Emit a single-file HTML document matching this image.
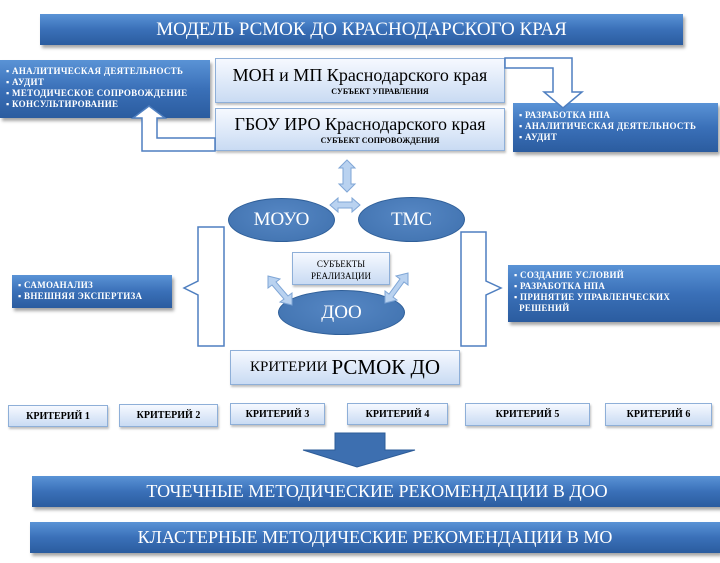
<!DOCTYPE html>
<html><head><meta charset="utf-8"><style>
body{margin:0;width:720px;height:563px;background:#fff;position:relative;overflow:hidden;font-family:"Liberation Serif",serif;}
.a{position:absolute;box-sizing:border-box;}
.db{background:linear-gradient(#5a93d6,#3a70b8 50%,#2b5c9f);color:#fff;box-shadow:2px 3px 3px rgba(0,0,0,.35);}
.lb{background:linear-gradient(#f6f9ff,#c9dbf3);border:1px solid #8eafd8;box-shadow:1px 2px 2px rgba(0,0,0,.25);color:#000;text-align:center;}
.ul{font-size:9px;line-height:11px;padding:6px 0 0 6px;white-space:nowrap;letter-spacing:.3px;font-weight:bold;}
.el{background:radial-gradient(ellipse at 50% 40%,#5687c4,#3e70ad);border:1px solid #2f5f99;border-radius:50%;color:#fff;display:flex;align-items:center;justify-content:center;font-size:19px;}
.cr{font-size:10px;font-weight:bold;display:flex;align-items:center;justify-content:center;}
.bar{display:flex;align-items:center;justify-content:center;font-size:18px;}
</style></head><body>
<div class="a db bar" style="left:40px;top:14px;width:643px;height:31px;font-size:19px">МОДЕЛЬ РСМОК ДО КРАСНОДАРСКОГО  КРАЯ</div>

<div class="a db ul" style="left:0;top:60px;width:210px;height:58px">▪ АНАЛИТИЧЕСКАЯ  ДЕЯТЕЛЬНОСТЬ<br>▪ АУДИТ<br>▪ МЕТОДИЧЕСКОЕ  СОПРОВОЖДЕНИЕ<br>▪ КОНСУЛЬТИРОВАНИЕ</div>
<div class="a lb" style="left:215px;top:58px;width:290px;height:45px"><div style="font-size:18px;margin-top:6px;line-height:20px">МОН и МП Краснодарского  края</div><div style="font-size:8px;font-weight:bold;padding-left:40px;margin-top:2px">СУБЪЕКТ УПРАВЛЕНИЯ</div></div>
<div class="a lb" style="left:215px;top:108px;width:290px;height:43px"><div style="font-size:18px;margin-top:5px;line-height:20px">ГБОУ ИРО Краснодарского  края</div><div style="font-size:8px;font-weight:bold;padding-left:40px;margin-top:2px">СУБЪЕКТ СОПРОВОЖДЕНИЯ</div></div>
<div class="a db ul" style="left:513px;top:103px;width:205px;height:49px;padding-top:7px">▪ РАЗРАБОТКА  НПА<br>▪ АНАЛИТИЧЕСКАЯ  ДЕЯТЕЛЬНОСТЬ<br>▪ АУДИТ</div>

<svg class="a" style="left:0;top:0;z-index:5" width="720" height="563">
 <g fill="#fff" stroke="#4f7fc0" stroke-width="1.5">
  <path d="M215,138 H157 V118 H165 L149,106 L133,118 H142 V151 H215 Z"/>
  <path d="M505,58 H572 V92 H582 L563,108 L544,92 H553 V68 H505 Z"/>
  <path d="M224,227 H198 V281 L184,288 L198,295 V346 H224 Z"/>
  <path d="M461,232 H486 V281 L501,288 L486,295 V346 H461 Z"/>
 </g>
 <g fill="#b9d2f0" stroke="#7fa6d6" stroke-width="1">
  <path d="M347,160 L355,168 H351 V184 H355 L347,192 L339,184 H343 V168 H339 Z"/>
  <path d="M330,205 L338,198 V202 H352 V198 L360,205 L352,212 V208 H338 V212 Z"/>
  <path d="M268,276 L280,279 L276,282 L288,296 L292,293 L292,305 L280,302 L284,299 L272,285 L268,288 Z"/>
  <path d="M408,273 L408,285 L404,282 L393,297 L397,300 L385,303 L385,291 L389,294 L400,279 L396,276 Z"/>
 </g>
 <path d="M335,433 H385 V450 H415 L357,467 L303,450 H335 Z" fill="#3d6fb0" stroke="#2d5c98"/>
</svg>

<div class="a el" style="left:228px;top:198px;width:107px;height:44px">МОУО</div>
<div class="a el" style="left:358px;top:197px;width:107px;height:45px">ТМС</div>
<div class="a lb" style="left:292px;top:252px;width:98px;height:33px;font-size:9px;padding-top:5px;line-height:12px">СУБЪЕКТЫ<br>РЕАЛИЗАЦИИ</div>
<div class="a el" style="left:278px;top:290px;width:127px;height:45px">ДОО</div>

<div class="a db ul" style="left:12px;top:275px;width:160px;height:33px;padding-top:5px">▪ САМОАНАЛИЗ<br>▪ ВНЕШНЯЯ ЭКСПЕРТИЗА</div>
<div class="a db ul" style="left:508px;top:265px;width:212px;height:57px;padding-top:5px">▪ СОЗДАНИЕ УСЛОВИЙ<br>▪ РАЗРАБОТКА НПА<br>▪ ПРИНЯТИЕ УПРАВЛЕНЧЕСКИХ<br>&nbsp;&nbsp;РЕШЕНИЙ</div>

<div class="a lb bar" style="left:230px;top:350px;width:230px;height:35px;font-size:15px">КРИТЕРИИ <span style="font-size:21px;margin-left:4px">РСМОК ДО</span></div>

<div class="a lb cr" style="left:8px;top:405px;width:100px;height:22px">КРИТЕРИЙ 1</div>
<div class="a lb cr" style="left:119px;top:404px;width:99px;height:23px">КРИТЕРИЙ 2</div>
<div class="a lb cr" style="left:230px;top:403px;width:95px;height:22px">КРИТЕРИЙ 3</div>
<div class="a lb cr" style="left:347px;top:403px;width:101px;height:22px">КРИТЕРИЙ 4</div>
<div class="a lb cr" style="left:465px;top:403px;width:125px;height:23px">КРИТЕРИЙ 5</div>
<div class="a lb cr" style="left:605px;top:403px;width:107px;height:23px">КРИТЕРИЙ 6</div>

<div class="a db bar" style="left:32px;top:476px;width:690px;height:31px">ТОЧЕЧНЫЕ МЕТОДИЧЕСКИЕ РЕКОМЕНДАЦИИ В ДОО</div>
<div class="a db bar" style="left:30px;top:522px;width:690px;height:31px">КЛАСТЕРНЫЕ МЕТОДИЧЕСКИЕ РЕКОМЕНДАЦИИ В МО</div>
</body></html>
